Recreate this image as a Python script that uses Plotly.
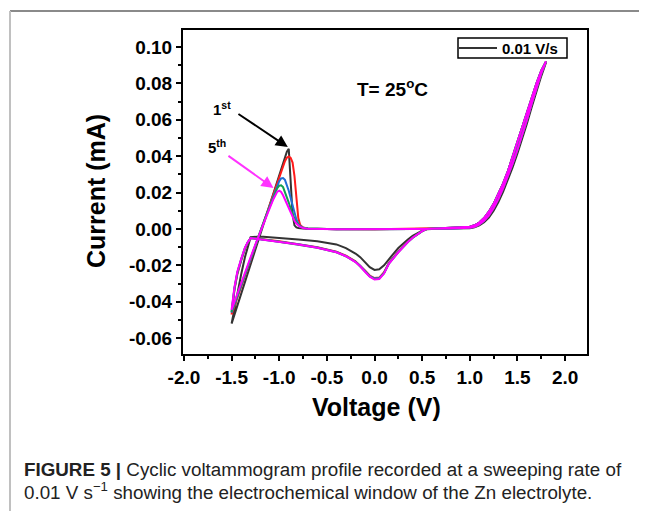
import plotly.graph_objects as go

# ---------------- data ----------------
V_fwd = [-1.50, -1.45, -1.40, -1.35, -1.30, -1.25, -1.20, -1.15, -1.10, -1.06, -1.04, -1.02,
         -1.00, -0.98, -0.96, -0.94, -0.92, -0.90, -0.88, -0.86, -0.84, -0.82, -0.80, -0.78,
         -0.75, -0.70, -0.40, 0.00, 0.40, 0.80, 1.00, 1.05, 1.10, 1.15, 1.20, 1.25, 1.30,
         1.35, 1.40, 1.45, 1.50, 1.55, 1.60, 1.65, 1.70, 1.75, 1.80]
V_rev = [1.80, 1.75, 1.70, 1.65, 1.60, 1.55, 1.50, 1.45, 1.40, 1.35, 1.30, 1.25, 1.20, 1.15,
         1.10, 1.05, 1.00, 0.80, 0.60, 0.55, 0.50, 0.45, 0.40, 0.35, 0.30, 0.25, 0.20, 0.15,
         0.10, 0.05, 0.00, -0.05, -0.10, -0.15, -0.20, -0.30, -0.40, -0.60, -0.80, -1.00,
         -1.20, -1.30, -1.33, -1.36, -1.40, -1.44, -1.47, -1.50]

# cycle 1 (black)
I1_fwd = [-0.0520, -0.0438, -0.0356, -0.0275, -0.0190, -0.0110, -0.0030, 0.0050, 0.0130, 0.0195,
          0.0225, 0.0260, 0.0290, 0.0325, 0.0360, 0.0390, 0.0425, 0.0440, 0.0270, 0.0080,
          0.0020, 0.0008, 0.0005, 0.0003, 0.0002, 0.0001, -0.0001, -0.0002, 0.0000, 0.0001,
          0.0004, 0.0009, 0.0020, 0.0037, 0.0063, 0.0100, 0.0148, 0.0205, 0.0270, 0.0340,
          0.0415, 0.0495, 0.0580, 0.0670, 0.0758, 0.0840, 0.0915]
I1_rev = [0.0915, 0.0862, 0.0790, 0.0710, 0.0625, 0.0540, 0.0460, 0.0380, 0.0310, 0.0243,
          0.0185, 0.0133, 0.0090, 0.0057, 0.0033, 0.0018, 0.0010, 0.0006, 0.0003, -0.0002,
          -0.0010, -0.0022, -0.0038, -0.0058, -0.0080, -0.0105, -0.0135, -0.0165, -0.0200,
          -0.0222, -0.0225, -0.0210, -0.0180, -0.0155, -0.0135, -0.0105, -0.0085, -0.0068,
          -0.0058, -0.0050, -0.0042, -0.0045, -0.0095, -0.0155, -0.0250, -0.0360, -0.0435,
          -0.0520]

# cycle 2 (red)
I2_fwd = [-0.0470, -0.0395, -0.0320, -0.0245, -0.0170, -0.0095, -0.0020, 0.0055, 0.0130, 0.0190,
          0.0220, 0.0250, 0.0280, 0.0310, 0.0345, 0.0372, 0.0392, 0.0398, 0.0390, 0.0365,
          0.0290, 0.0160, 0.0060, 0.0022, 0.0008, 0.0003, -0.0001, -0.0002, 0.0000, 0.0002,
          0.0006, 0.0012, 0.0025, 0.0045, 0.0075, 0.0115, 0.0165, 0.0225, 0.0290, 0.0360,
          0.0435, 0.0515, 0.0600, 0.0690, 0.0775, 0.0855, 0.0920]
I2_rev = [0.0920, 0.0870, 0.0800, 0.0720, 0.0635, 0.0550, 0.0470, 0.0390, 0.0318, 0.0250,
          0.0190, 0.0138, 0.0095, 0.0060, 0.0035, 0.0020, 0.0012, 0.0008, 0.0004, 0.0000,
          -0.0012, -0.0028, -0.0047, -0.0070, -0.0095, -0.0124, -0.0155, -0.0187, -0.0238,
          -0.0267, -0.0270, -0.0256, -0.0228, -0.0200, -0.0178, -0.0147, -0.0125, -0.0100,
          -0.0083, -0.0068, -0.0055, -0.0050, -0.0075, -0.0110, -0.0175, -0.0250, -0.0335,
          -0.0470]

# cycle 3 (blue)
I3_fwd = [-0.0460, -0.0385, -0.0310, -0.0235, -0.0160, -0.0088, -0.0015, 0.0055, 0.0125, 0.0180,
          0.0210, 0.0238, 0.0262, 0.0278, 0.0280, 0.0270, 0.0245, 0.0210, 0.0170, 0.0125,
          0.0085, 0.0052, 0.0030, 0.0016, 0.0007, 0.0002, -0.0001, -0.0002, 0.0000, 0.0002,
          0.0006, 0.0012, 0.0025, 0.0045, 0.0075, 0.0115, 0.0165, 0.0225, 0.0290, 0.0360,
          0.0435, 0.0515, 0.0600, 0.0690, 0.0775, 0.0855, 0.0920]
I3_rev = [0.0920, 0.0870, 0.0800, 0.0720, 0.0635, 0.0550, 0.0470, 0.0390, 0.0318, 0.0250,
          0.0190, 0.0138, 0.0095, 0.0060, 0.0035, 0.0020, 0.0012, 0.0008, 0.0004, 0.0000,
          -0.0012, -0.0028, -0.0048, -0.0071, -0.0097, -0.0126, -0.0158, -0.0190, -0.0241,
          -0.0270, -0.0272, -0.0259, -0.0231, -0.0202, -0.0180, -0.0149, -0.0127, -0.0102,
          -0.0084, -0.0069, -0.0055, -0.0050, -0.0074, -0.0107, -0.0170, -0.0243, -0.0330,
          -0.0460]

# cycle 4 (green)
I4_fwd = [-0.0455, -0.0380, -0.0305, -0.0230, -0.0158, -0.0086, -0.0015, 0.0055, 0.0122, 0.0175,
          0.0203, 0.0225, 0.0238, 0.0240, 0.0230, 0.0205, 0.0175, 0.0145, 0.0112, 0.0082,
          0.0056, 0.0036, 0.0022, 0.0012, 0.0006, 0.0002, -0.0001, -0.0002, 0.0000, 0.0002,
          0.0006, 0.0012, 0.0025, 0.0045, 0.0075, 0.0115, 0.0165, 0.0225, 0.0290, 0.0360,
          0.0435, 0.0515, 0.0600, 0.0690, 0.0775, 0.0855, 0.0920]
I4_rev = [0.0920, 0.0870, 0.0800, 0.0720, 0.0635, 0.0550, 0.0470, 0.0390, 0.0318, 0.0250,
          0.0190, 0.0138, 0.0095, 0.0060, 0.0035, 0.0020, 0.0012, 0.0008, 0.0004, 0.0000,
          -0.0012, -0.0028, -0.0048, -0.0072, -0.0098, -0.0127, -0.0159, -0.0191, -0.0243,
          -0.0273, -0.0275, -0.0261, -0.0233, -0.0204, -0.0181, -0.0150, -0.0128, -0.0103,
          -0.0085, -0.0070, -0.0055, -0.0050, -0.0073, -0.0105, -0.0168, -0.0240, -0.0325,
          -0.0455]

# cycle 5 (magenta)
I5_fwd = [-0.0445, -0.0370, -0.0300, -0.0225, -0.0155, -0.0085, -0.0015, 0.0050, 0.0115, 0.0165,
          0.0188, 0.0205, 0.0210, 0.0203, 0.0185, 0.0160, 0.0135, 0.0110, 0.0085, 0.0063,
          0.0045, 0.0030, 0.0019, 0.0011, 0.0005, 0.0001, -0.0001, -0.0002, 0.0000, 0.0002,
          0.0006, 0.0012, 0.0025, 0.0045, 0.0075, 0.0115, 0.0165, 0.0225, 0.0290, 0.0360,
          0.0435, 0.0515, 0.0600, 0.0690, 0.0775, 0.0855, 0.0920]
I5_rev = [0.0920, 0.0870, 0.0800, 0.0720, 0.0635, 0.0550, 0.0470, 0.0390, 0.0318, 0.0250,
          0.0190, 0.0138, 0.0095, 0.0060, 0.0035, 0.0020, 0.0012, 0.0008, 0.0004, 0.0000,
          -0.0012, -0.0028, -0.0048, -0.0072, -0.0098, -0.0128, -0.0160, -0.0192, -0.0245,
          -0.0275, -0.0278, -0.0262, -0.0235, -0.0205, -0.0182, -0.0150, -0.0128, -0.0103,
          -0.0085, -0.0070, -0.0055, -0.0050, -0.0072, -0.0103, -0.0165, -0.0235, -0.0320,
          -0.0445]

legend_label = "0.01 V/s"
cycle_names = ["cycle 1", "cycle 2", "cycle 3", "cycle 4", "cycle 5"]
cycle_colors = ["#333333", "#ff1a1a", "#1f6fd6", "#10a050", "#ff00ff"]
cycles_fwd = [I1_fwd, I2_fwd, I3_fwd, I4_fwd, I5_fwd]
cycles_rev = [I1_rev, I2_rev, I3_rev, I4_rev, I5_rev]

x_tickvals = [-2.0, -1.5, -1.0, -0.5, 0.0, 0.5, 1.0, 1.5, 2.0]
x_ticktext = ["-2.0", "-1.5", "-1.0", "-0.5", "0.0", "0.5", "1.0", "1.5", "2.0"]
y_tickvals = [-0.06, -0.04, -0.02, 0.00, 0.02, 0.04, 0.06, 0.08, 0.10]
y_ticktext = ["-0.06", "-0.04", "-0.02", "0.00", "0.02", "0.04", "0.06", "0.08", "0.10"]

# ---------------- figure ----------------
OFF = 8                      # page body margin of the browser
W, H = 647 - OFF, 511 - OFF
L, R, T, B = 183, 587, 30, 354   # plot-area box in window pixels


def px(xp):
    return (xp - L) / (R - L)


def py(yp):
    return 1 - (yp - T) / (B - T)


fig = go.Figure()
for i in range(5):
    fig.add_trace(go.Scatter(
        x=V_fwd + V_rev, y=cycles_fwd[i] + cycles_rev[i], mode="lines",
        name=cycle_names[i], showlegend=False,
        line=dict(color=cycle_colors[i], width=2),
    ))

FONT = "Liberation Sans, Arial, sans-serif"

fig.update_layout(
    width=W, height=H,
    margin=dict(l=L - OFF, r=647 - R, t=T - OFF, b=511 - B),
    paper_bgcolor="white", plot_bgcolor="white",
    font=dict(family=FONT, color="black"),
    showlegend=False,
)

fig.update_xaxes(
    range=[-2.01, 2.23], showgrid=False, zeroline=False,
    showline=True, linewidth=2, linecolor="black", mirror=True,
    ticks="outside", ticklen=5, tickwidth=1.5, tickcolor="black",
    tickvals=x_tickvals, ticktext=x_ticktext,
    tickfont=dict(size=19, weight="bold"),
    minor=dict(ticks="outside", ticklen=3, tickwidth=1.5, tickcolor="black", dtick=0.25,
               tick0=0, showgrid=False),
)
fig.update_yaxes(
    range=[-0.0687, 0.1093], showgrid=False, zeroline=False,
    showline=True, linewidth=2, linecolor="black", mirror=True,
    ticks="outside", ticklen=5, tickwidth=1.5, tickcolor="black",
    tickvals=y_tickvals, ticktext=y_ticktext,
    tickfont=dict(size=19, weight="bold"),
    minor=dict(ticks="outside", ticklen=3, tickwidth=1.5, tickcolor="black", dtick=0.01,
               tick0=0, showgrid=False),
)

ann = []
# axis titles
ann.append(dict(text="<b>Voltage (V)</b>", x=px(376), y=py(407), xref="paper", yref="paper",
                showarrow=False, font=dict(size=25), xanchor="center", yanchor="middle"))
ann.append(dict(text="<b>Current (mA)</b>", x=px(96), y=py(191), xref="paper", yref="paper",
                showarrow=False, font=dict(size=25), textangle=-90,
                xanchor="center", yanchor="middle"))
# temperature label
ann.append(dict(text="<b>T= 25<sup>o</sup>C</b>", x=0.19, y=0.0775, xref="x", yref="y",
                showarrow=False, font=dict(size=19), xanchor="center", yanchor="middle"))
# cycle labels and arrows
ann.append(dict(text="<b>1<sup>st</sup></b>", x=-1.60, y=0.0660, xref="x", yref="y",
                showarrow=False, font=dict(size=15), xanchor="center", yanchor="middle"))
ann.append(dict(text="<b>5<sup>th</sup></b>", x=-1.65, y=0.0455, xref="x", yref="y",
                showarrow=False, font=dict(size=15), xanchor="center", yanchor="middle"))
ann.append(dict(text="", x=-0.91, y=0.0450, ax=-1.444, ay=0.0637, xref="x", yref="y",
                axref="x", ayref="y", showarrow=True, arrowhead=2, arrowsize=1.2,
                arrowwidth=2, arrowcolor="black"))
ann.append(dict(text="", x=-1.06, y=0.0225, ax=-1.549, ay=0.0407, xref="x", yref="y",
                axref="x", ayref="y", showarrow=True, arrowhead=2, arrowsize=1.2,
                arrowwidth=2, arrowcolor="#ff33ff"))
# legend text (box drawn as shapes below)
ann.append(dict(text="<b>" + legend_label + "</b>", x=px(500), y=py(48), xref="paper", yref="paper",
                showarrow=False, font=dict(size=15), xanchor="left", yanchor="middle"))
# caption
ann.append(dict(text="<b>FIGURE 5 |</b> Cyclic voltammogram profile recorded at a sweeping rate of",
                x=px(22), y=py(469), xref="paper", yref="paper", showarrow=False,
                font=dict(size=18.8, color="#222"), xanchor="left", yanchor="middle"))
ann.append(dict(text="0.01 V s<sup>\u22121</sup> showing the electrochemical window of the Zn electrolyte.",
                x=px(22), y=py(491), xref="paper", yref="paper", showarrow=False,
                font=dict(size=18.8, color="#222"), xanchor="left", yanchor="middle"))
fig.update_layout(annotations=ann)

# legend box and sample line
fig.add_shape(type="rect", xref="paper", yref="paper", x0=px(458), y0=py(38), x1=px(567), y1=py(58),
              line=dict(color="black", width=1.5), fillcolor="white", layer="above")
fig.add_shape(type="line", xref="paper", yref="paper", x0=px(459), y0=py(48), x1=px(497), y1=py(48),
              line=dict(color="#333333", width=2), layer="above")

# page frame lines (top and left)
fig.add_shape(type="line", xref="paper", yref="paper", x0=px(10), y0=py(11), x1=px(660), y1=py(11),
              line=dict(color="#8a8a8a", width=2))
fig.add_shape(type="line", xref="paper", yref="paper", x0=px(10), y0=py(11), x1=px(10), y1=py(520),
              line=dict(color="#c0c0c0", width=2))

fig.write_html("out.html")
